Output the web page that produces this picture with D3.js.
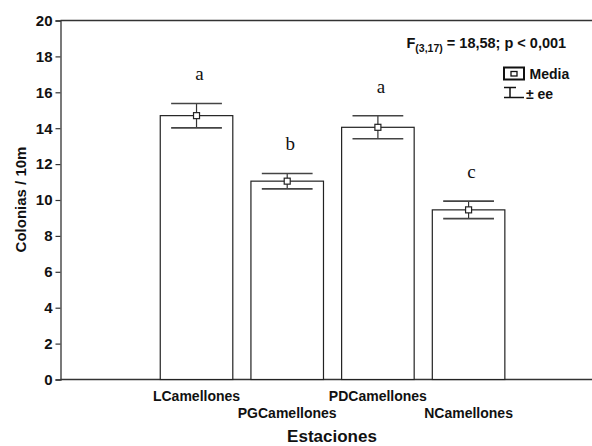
<!DOCTYPE html>
<html>
<head>
<meta charset="utf-8">
<script src="https://cdn.jsdelivr.net/npm/d3@7"></script>
<style>
  html, body { margin: 0; padding: 0; background: #fff; }
  svg { display: block; }
  text { font-family: "Liberation Sans", Arial, sans-serif; fill: #111; }
</style>
</head>
<body>
<svg id="chart" width="592" height="446"></svg>
<script>
// Stations, mean colonies per 10 m, standard error and Tukey group letters
const categories = ["LCamellones", "PGCamellones", "PDCamellones", "NCamellones"];
const means = [14.7, 11.05, 14.05, 9.45];
const stdErr = [0.68, 0.43, 0.64, 0.49];
const groups = ["a", "b", "a", "c"];
const yTicks = [0, 2, 4, 6, 8, 10, 12, 14, 16, 18, 20];

(function () {
const svg = d3.select("#chart");
const W = 592;
const plotLeft = 60.5, plotTop = 20.5, plotBottom = 379.5;

const x = d3.scaleLinear().domain([-0.5, 5.35]).range([plotLeft, 591]);
const y = d3.scaleLinear().domain([0, 20]).range([plotBottom, plotTop]);

const barW = 0.8, capW = 0.56;
const data = categories.map((c, i) => ({ c, i, m: means[i], se: stdErr[i], g: groups[i] }));

// Frame: top line and bottom axis
svg.append("line").attr("x1", plotLeft).attr("x2", W).attr("y1", plotTop).attr("y2", plotTop)
  .attr("stroke", "#333").attr("stroke-width", 1.3);
svg.append("line").attr("x1", plotLeft).attr("x2", W).attr("y1", plotBottom).attr("y2", plotBottom)
  .attr("stroke", "#333").attr("stroke-width", 1.3);

const yAxis = d3.axisLeft(y).tickValues(yTicks).tickSize(5).tickPadding(3).tickFormat(d3.format("d"));
const gy = svg.append("g").attr("transform", `translate(${plotLeft},0)`).call(yAxis);
gy.select(".domain").attr("stroke", "#333").attr("stroke-width", 1.3);
gy.selectAll(".tick line").attr("stroke", "#333").attr("stroke-width", 1.2);
gy.selectAll(".tick text").attr("font-family", "Liberation Sans, Arial, sans-serif")
  .attr("font-size", 15).attr("font-weight", "bold").attr("fill", "#111");

// Bars
svg.append("g").selectAll("rect").data(data).join("rect")
  .attr("x", d => x(d.i + 1 - barW / 2))
  .attr("y", d => y(d.m))
  .attr("width", d => x(d.i + 1 + barW / 2) - x(d.i + 1 - barW / 2))
  .attr("height", d => y(0) - y(d.m))
  .attr("fill", "#fff").attr("stroke", "#222").attr("stroke-width", 1.2);

// Error whiskers (mean ± se)
const eb = svg.append("g").selectAll("g").data(data).join("g");
eb.append("line")
  .attr("x1", d => x(d.i + 1)).attr("x2", d => x(d.i + 1))
  .attr("y1", d => y(d.m + d.se)).attr("y2", d => y(d.m - d.se))
  .attr("stroke", "#333").attr("stroke-width", 1.2);
[1, -1].forEach(s => {
  eb.append("line")
    .attr("x1", d => x(d.i + 1 - capW / 2)).attr("x2", d => x(d.i + 1 + capW / 2))
    .attr("y1", d => y(d.m + s * d.se)).attr("y2", d => y(d.m + s * d.se))
    .attr("stroke", "#444").attr("stroke-width", 1.6);
});
// Mean markers
eb.append("rect")
  .attr("x", d => x(d.i + 1) - 3).attr("y", d => y(d.m) - 3)
  .attr("width", 6).attr("height", 6)
  .attr("fill", "#fff").attr("stroke", "#222").attr("stroke-width", 1.2);

// Group letters above whiskers
svg.append("g").selectAll("text").data(data).join("text")
  .attr("x", d => x(d.i + 1) + 3)
  .attr("y", d => y(d.m + d.se) - 23)
  .attr("text-anchor", "middle")
  .style("font-family", "'Liberation Serif', 'Times New Roman', serif")
  .attr("font-size", 19)
  .text(d => d.g);

// Category labels, staggered on two rows
svg.append("g").selectAll("text").data(data).join("text")
  .attr("x", d => x(d.i + 1))
  .attr("y", d => d.i % 2 === 0 ? 400.5 : 417.5)
  .attr("text-anchor", "middle")
  .attr("font-size", 14).attr("font-weight", "bold")
  .text(d => d.c);

// Axis titles
svg.append("text").attr("x", 332).attr("y", 442)
  .attr("text-anchor", "middle").attr("font-size", 17).attr("font-weight", "bold")
  .text("Estaciones");
svg.append("text").attr("transform", "translate(25.5,199.5) rotate(-90)")
  .attr("text-anchor", "middle").attr("font-size", 15).attr("font-weight", "bold")
  .text("Colonias / 10m");

// ANOVA result
const ft = svg.append("text").attr("x", 406.5).attr("y", 48)
  .attr("font-size", 14.5).attr("font-weight", "bold");
ft.append("tspan").text("F");
ft.append("tspan").attr("dy", 4).attr("font-size", 10.5).text("(3,17)");
ft.append("tspan").attr("dy", -4).text(" = 18,58; p < 0,001");

// Legend
const lg = svg.append("g");
lg.append("rect").attr("x", 504).attr("y", 67.5).attr("width", 20).attr("height", 12)
  .attr("fill", "#fff").attr("stroke", "#111").attr("stroke-width", 2);
lg.append("rect").attr("x", 511).attr("y", 71.5).attr("width", 6).attr("height", 4.5)
  .attr("fill", "#fff").attr("stroke", "#111").attr("stroke-width", 1.3);
lg.append("text").attr("x", 529.5).attr("y", 79).attr("font-size", 14).attr("font-weight", "bold").text("Media");
lg.append("line").attr("x1", 504).attr("x2", 516).attr("y1", 87.5).attr("y2", 87.5).attr("stroke", "#111").attr("stroke-width", 1.5);
lg.append("line").attr("x1", 510).attr("x2", 510).attr("y1", 87.5).attr("y2", 97.5).attr("stroke", "#111").attr("stroke-width", 1.5);
lg.append("line").attr("x1", 504).attr("x2", 524).attr("y1", 97.5).attr("y2", 97.5).attr("stroke", "#111").attr("stroke-width", 1.5);
lg.append("text").attr("x", 526).attr("y", 98.5).attr("font-size", 14).attr("font-weight", "bold").text("± ee");
})();
</script>
</body>
</html>
